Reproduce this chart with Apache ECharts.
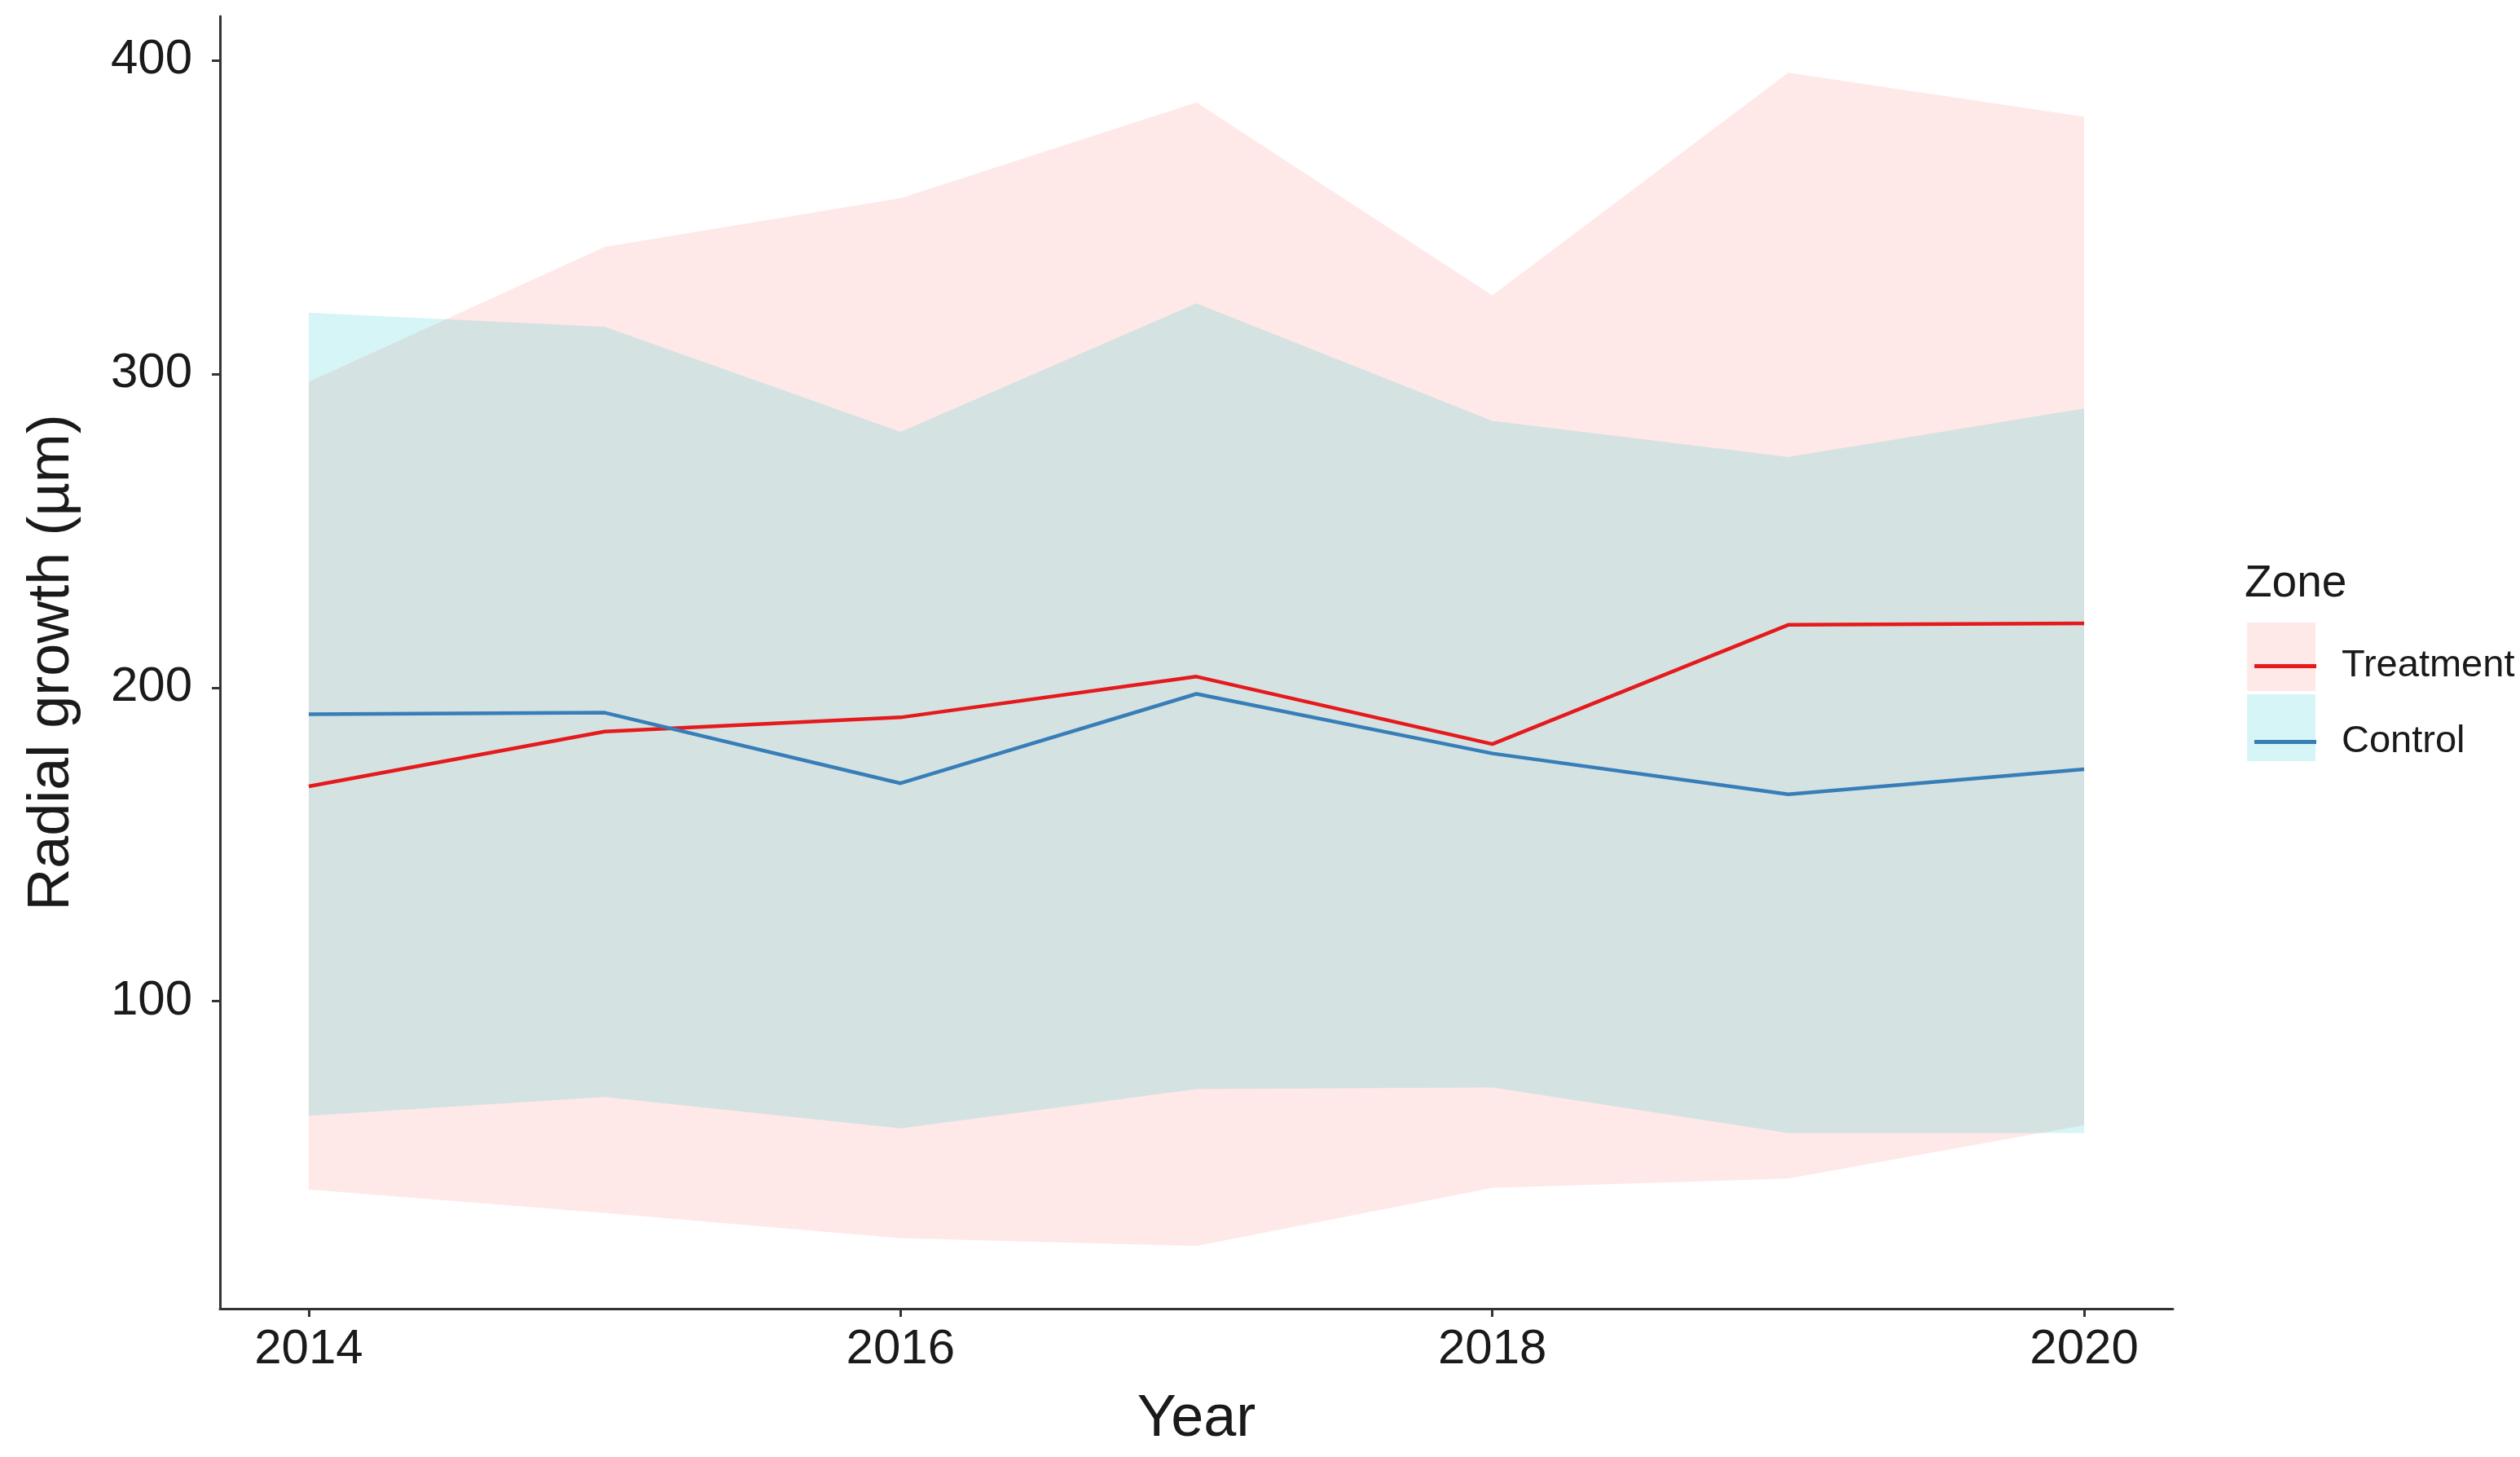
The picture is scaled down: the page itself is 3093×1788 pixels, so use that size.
<!DOCTYPE html>
<html>
<head>
<meta charset="utf-8">
<script src="https://cdn.jsdelivr.net/npm/echarts@6/dist/echarts.min.js"></script>
<style>
html,body{margin:0;padding:0;background:#fff;}
#chart{width:3093px;height:1788px;}
</style>
</head>
<body>
<div id="chart"></div>
<script>
// ---- data ----
const years = [2014, 2015, 2016, 2017, 2018, 2019, 2020];
const treatmentMean  = [168.5, 186, 190.5, 203.5, 182, 220, 220.5];
const treatmentLower = [40, 32.5, 24.5, 22, 40.5, 43.5, 60.5];
const treatmentUpper = [297.5, 340.5, 356, 386.5, 325, 396, 382];
const controlMean    = [191.5, 192, 169.5, 198, 179, 166, 174];
const controlLower   = [63.5, 69.5, 59.5, 72, 72.5, 58, 58];
const controlUpper   = [319.5, 315, 281.5, 322.5, 285, 273.5, 289];
const xTicks = [2014, 2016, 2018, 2020];
const yTicks = [100, 200, 300, 400];

const pair = (arr) => years.map((y, i) => [y, arr[i]]);

const FONT = 'Liberation Sans, Arial, sans-serif';
const treatFill = 'rgba(248,118,109,0.16)';
const ctrlFill = 'rgba(0,191,196,0.16)';
const treatLine = '#E41A1C';
const ctrlLine = '#377EB8';

function bandRenderer(lower, upper, fill) {
  return function (params, api) {
    const pts = [];
    for (let i = 0; i < years.length; i++) pts.push(api.coord([years[i], upper[i]]));
    for (let i = years.length - 1; i >= 0; i--) pts.push(api.coord([years[i], lower[i]]));
    return {
      type: 'polygon',
      shape: {points: pts},
      style: {fill: fill, stroke: null}
    };
  };
}

const chart = echarts.init(document.getElementById('chart'), null, {renderer: 'canvas'});
const option = {
  backgroundColor: '#ffffff',
  animation: false,
  textStyle: {fontFamily: FONT},
  title: {
    text: 'Zone',
    left: 2750,
    top: 684,
    textStyle: {fontFamily: FONT, fontSize: 55, fontWeight: 'normal', color: '#1a1a1a'}
  },
  grid: {left: 270, right: 426, top: 20, bottom: 182, containLabel: false},
  xAxis: {
    type: 'value',
    min: 2013.7,
    max: 2020.3,
    name: 'Year',
    nameLocation: 'middle',
    nameGap: 100,
    nameTextStyle: {fontFamily: FONT, fontSize: 72, color: '#1a1a1a'},
    axisLine: {show: true, lineStyle: {color: '#333', width: 3}},
    axisTick: {show: true, length: 10, lineStyle: {color: '#333', width: 3}, customValues: xTicks},
    axisLabel: {fontFamily: FONT, fontSize: 60, color: '#1a1a1a', margin: 20, customValues: xTicks,
                formatter: (v) => String(v)},
    splitLine: {show: false}
  },
  yAxis: {
    type: 'value',
    min: 2,
    max: 414,
    name: 'Radial growth (µm)',
    nameLocation: 'middle',
    nameGap: 170,
    nameRotate: 90,
    nameTextStyle: {fontFamily: FONT, fontSize: 72, color: '#1a1a1a'},
    axisLine: {show: true, lineStyle: {color: '#333', width: 3}},
    axisTick: {show: true, length: 10, lineStyle: {color: '#333', width: 3}, customValues: yTicks},
    axisLabel: {fontFamily: FONT, fontSize: 60, color: '#1a1a1a', margin: 34, customValues: yTicks,
                formatter: (v) => String(v)},
    splitLine: {show: false}
  },
  legend: {
    data: ['Treatment', 'Control'],
    orient: 'vertical',
    left: 2762,
    top: 789,
    icon: 'rect',
    itemWidth: 76,
    itemHeight: 5,
    itemGap: 46,
    selectedMode: false,
    textStyle: {fontFamily: FONT, fontSize: 47, color: '#1a1a1a', padding: [0, 0, 0, 26]}
  },
  graphic: [
    {type: 'rect', z: -1, shape: {x: 2758, y: 764, width: 84, height: 84}, style: {fill: treatFill}},
    {type: 'rect', z: -1, shape: {x: 2758, y: 852, width: 84, height: 82}, style: {fill: ctrlFill}}
  ],
  series: [
    {name: 'Treatment band', type: 'custom', silent: true, z: 1,
     renderItem: bandRenderer(treatmentLower, treatmentUpper, treatFill),
     data: [[2014, 200]]},
    {name: 'Control band', type: 'custom', silent: true, z: 1,
     renderItem: bandRenderer(controlLower, controlUpper, ctrlFill),
     data: [[2014, 200]]},
    {name: 'Treatment', type: 'line', data: pair(treatmentMean), symbol: 'none', z: 3,
     itemStyle: {color: treatLine}, lineStyle: {color: treatLine, width: 4.5}},
    {name: 'Control', type: 'line', data: pair(controlMean), symbol: 'none', z: 4,
     itemStyle: {color: ctrlLine}, lineStyle: {color: ctrlLine, width: 4.5}}
  ]
};
chart.setOption(option);
</script>
</body>
</html>
